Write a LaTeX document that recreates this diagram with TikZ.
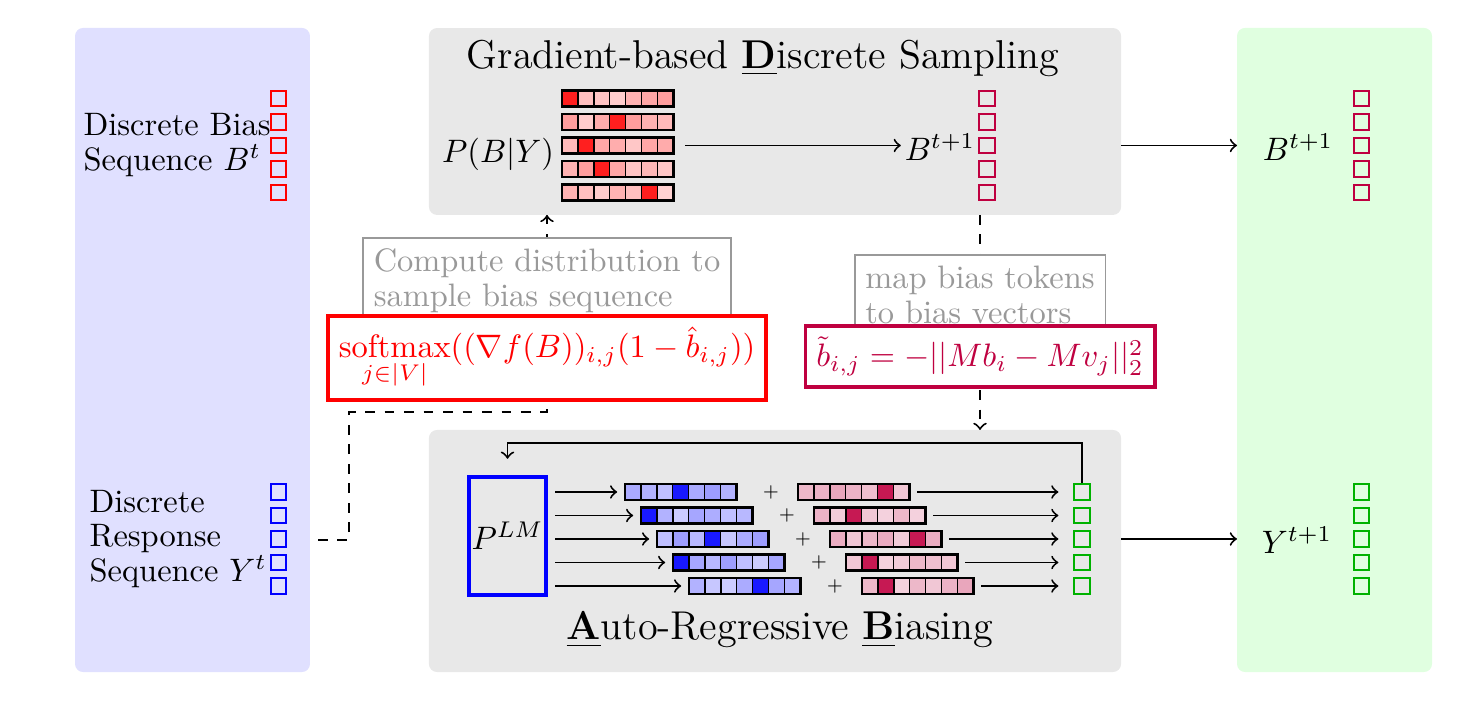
\documentclass[tikz,border=0pt]{standalone}
\usepackage{amsmath}
\newcommand{\gridrow}[4]{%
  \foreach \cc [count=\ii] in {#4} {
    \node[cellbox, fill=\cc] (#1-\ii) at ({#2+(\ii-0.5)*15.9},{#3}) {};
  }
  \node[gridbox] (#1) at ({#2+55.65},{#3}) {};
}
\begin{document}
\begin{tikzpicture}[x=0.30817pt,y=-0.30817pt,
  panel/.style={rounded corners=2.5pt, inner sep=0, outer sep=0},
  sq/.style={draw, minimum size=4.8pt, inner sep=0, line width=0.55pt},
  cellbox/.style={draw=black, line width=0.45pt, minimum size=4.9pt, inner sep=0, outer sep=0},
  gridbox/.style={draw=black, line width=0.8pt, minimum width=34.3pt, minimum height=4.9pt, inner sep=0, outer sep=0},
  conn/.style={semithick, ->},
  dconn/.style={semithick, dashed, ->},
  note/.style={draw=black!40, text=black!40, semithick, fill=white, align=left, font=\fontsize{10}{10.8}\selectfont},
  ttlfont/.style={font=\fontsize{12.4}{15}\selectfont},
  ]
\useasboundingbox (0,0) rectangle (1470,702);

% panels
\node[panel, fill=blue!12, minimum width=72.4pt, minimum height=198.5pt] (lp) at (192.5,350) {};
\node[panel, fill=green!12, minimum width=60.1pt, minimum height=198.5pt] (rp) at (1334.5,350) {};
\node[panel, fill=gray!18, minimum width=213.3pt, minimum height=57.6pt] (tb) at (775,121.5) {};
\node[panel, fill=gray!18, minimum width=213.3pt, minimum height=74.6pt] (bb) at (775,551) {};

% token squares
\foreach \i in {1,...,5} {
  \node[sq, draw=red] (bt\i) at (278.5,{98.5+23.5*(\i-1)}) {};
  \node[sq, draw=blue] (yt\i) at (278.5,{492+23.5*(\i-1)}) {};
  \node[sq, draw=purple] (bn\i) at (987,{98.5+23.5*(\i-1)}) {};
  \node[sq, draw=purple] (rbn\i) at (1361.5,{98.5+23.5*(\i-1)}) {};
  \node[sq, draw=green!70!black] (ryn\i) at (1361.5,{492+23.5*(\i-1)}) {};
  \node[sq, draw=green!70!black] (g\i) at (1082,{492+23.5*(\i-1)}) {};
}
\node[anchor=west, inner sep=0, align=left, font=\fontsize{10}{10.8}\selectfont] (btxt) at (83,145) {Discrete Bias\\Sequence $B^t$};
\node[anchor=west, inner sep=0, align=left, font=\fontsize{10}{10.5}\selectfont] (ytxt) at (89,539) {Discrete\\Response\\Sequence $Y^t$};

% top box
\node[ttlfont] (ttl) at (763,58) {Gradient-based \underline{\textbf{D}}iscrete Sampling};
\node (pby) at (498,154) {$P(B|Y)$};
\gridrow{tr1}{562}{98.5}{red!88,red!25,red!23,red!20,red!30,red!35,red!38}
\gridrow{tr2}{562}{122}{red!38,red!20,red!33,red!88,red!38,red!30,red!27}
\gridrow{tr3}{562}{145.5}{red!27,red!88,red!35,red!32,red!22,red!35,red!33}
\gridrow{tr4}{562}{169}{red!30,red!38,red!88,red!35,red!23,red!28,red!22}
\gridrow{tr5}{562}{192.5}{red!30,red!25,red!20,red!30,red!25,red!88,red!18}
\node[inner sep=1pt] (btop) at (940,147) {$B^{t+1}$};
\draw[conn, shorten <=3.7pt] (tr3.east) -- (tr3.east -| btop.west);

% right panel
\node (rbt) at (1298,147) {$B^{t+1}$};
\node (ryt) at (1297,540) {$Y^{t+1}$};
\draw[conn] (tb.east |- tr3) -- (rp.west |- tr3);
\draw[conn] (bb.east |- g3) -- (rp.west |- g3);

% dashed connectors
\coordinate (ys) at (318,540);
\coordinate (d1) at (349,412);
\coordinate (cdx) at (547,0);
\coordinate (pbx) at (980,0);
\draw[dconn] (ys) -| (d1) -| (tb.south -| cdx);
\draw[dconn] (tb.south -| pbx) -- (bb.north -| pbx);

% labels
\node[note, anchor=north] (cd) at (547,237) {Compute distribution to\\sample bias sequence};
\node[draw=red, very thick, fill=white, text=red, minimum width=132.5pt, minimum height=25.3pt] (rb) at (547,358) {$\displaystyle\operatorname*{softmax}_{j\in|V|}((\nabla f(B))_{i,j}(1-\hat{b}_{i,j}))$};
\node[note, anchor=north] (mb) at (980,254) {map bias tokens\\to bias vectors};
\node[draw=purple, very thick, fill=white, text=purple, minimum width=107pt, minimum height=18.2pt] (pb) at (980,356.5) {$\tilde{b}_{i,j} = -||Mb_i - Mv_j||_2^2$};

% bottom box
\node[ttlfont] (btl) at (780,630) {\underline{\textbf{A}}uto-Regressive \underline{\textbf{B}}iasing};
\node[draw=blue, very thick, minimum width=23.7pt, minimum height=36.4pt, inner sep=0] (plm) at (507.5,536) {$P^{LM}$};
\gridrow{br1}{625}{492}{blue!33,blue!30,blue!25,blue!90,blue!33,blue!38,blue!30}
\gridrow{br2}{641}{515.5}{blue!90,blue!30,blue!20,blue!35,blue!32,blue!25,blue!28}
\gridrow{br3}{657}{539}{blue!25,blue!38,blue!28,blue!90,blue!22,blue!33,blue!38}
\gridrow{br4}{673}{562.5}{blue!90,blue!35,blue!28,blue!38,blue!25,blue!20,blue!35}
\gridrow{br5}{689}{586}{blue!30,blue!22,blue!20,blue!33,blue!90,blue!35,blue!30}
\gridrow{pr1}{798}{492}{purple!28,purple!30,purple!35,purple!30,purple!25,purple!90,purple!22}
\gridrow{pr2}{814}{515.5}{purple!30,purple!20,purple!90,purple!22,purple!18,purple!28,purple!18}
\gridrow{pr3}{830}{539}{purple!32,purple!22,purple!28,purple!33,purple!20,purple!90,purple!32}
\gridrow{pr4}{846}{562.5}{purple!22,purple!90,purple!18,purple!20,purple!28,purple!25,purple!22}
\gridrow{pr5}{862}{586}{purple!28,purple!90,purple!18,purple!28,purple!22,purple!30,purple!35}
\foreach \i in {1,...,5} {
  \node[font=\tiny, inner sep=0] (pl\i) at ({771+16*(\i-1)},{492+23.5*(\i-1)}) {$+$};
  \draw[conn, shorten <=2.2pt, shorten >=2.4pt] (plm.east |- br\i) -- (br\i.west);
  \draw[conn, shorten <=2.5pt, shorten >=4.6pt] (pr\i.east) -- (g\i.west);
}
\draw[conn] (g1.north) -- ++(0,-40) -| ([yshift=5pt]plm.north);
\end{tikzpicture}
\end{document}
